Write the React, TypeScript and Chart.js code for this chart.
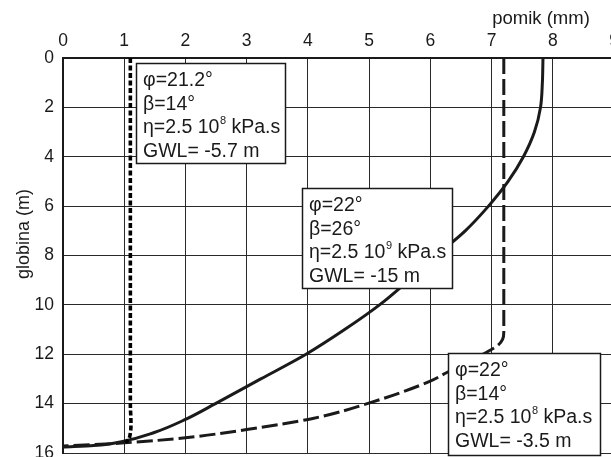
import React, { useEffect, useRef } from "react";
import { Chart, registerables } from "chart.js";

Chart.register(...registerables);

// ---- data (depth in m, displacement in mm) ----
const solidDepth = [0, 1, 2, 3, 4, 5, 6, 7, 8, 9, 10, 11, 12, 13, 14, 14.64, 15.18, 15.52, 15.7, 15.76];
const solidDisp = [7.84, 7.83, 7.8, 7.7, 7.52, 7.27, 6.95, 6.57, 6.1, 5.65, 5.17, 4.6, 3.97, 3.23, 2.49, 2.0, 1.48, 0.99, 0.5, 0];

const dottedDepth = [0, 8, 14, 14.78, 15.2, 15.45, 15.58];
const dottedDisp = [1.1, 1.1, 1.1, 1.11, 1.1, 1.07, 1.02];

const dashedDepth = [0, 6, 11.1, 11.4, 11.65, 11.89, 12.3, 12.74, 13.1, 13.96, 14.6, 15.05, 15.38, 15.59, 15.72];
const dashedDisp = [7.2, 7.2, 7.2, 7.18, 7.1, 6.94, 6.62, 6.27, 5.99, 5.02, 4.08, 3.0, 2.0, 1.0, 0];

const xTitle = "pomik (mm)";
const yTitle = "globina (m)";

const box1Lines = ["φ=21.2°", "β=14°", "η=2.5 10^8 kPa.s", "GWL= -5.7 m"];
const box2Lines = ["φ=22°", "β=26°", "η=2.5 10^9 kPa.s", "GWL= -15 m"];
const box3Lines = ["φ=22°", "β=14°", "η=2.5 10^8 kPa.s", "GWL= -3.5 m"];

const FONT = "'Liberation Sans', Arial, Helvetica, sans-serif";
const INK = "#1a1a1a";

const toPts = (d: number[], v: number[]) => d.map((y, i) => ({ x: v[i], y }));

// annotation placement (data coords of top-left corner) and pixel size
const BOXES = [
  { lines: box1Lines, ax: 1.196, ay: 0.2, w: 149, h: 100 },
  { lines: box2Lines, ax: 3.9, ay: 5.26, w: 150, h: 100 },
  { lines: box3Lines, ax: 6.29, ay: 11.93, w: 152, h: 102 },
];

function drawRich(ctx: CanvasRenderingContext2D, text: string, x: number, y: number) {
  const parts = text.split(/\^(\d+)/);
  let cx = x;
  parts.forEach((p, i) => {
    if (i % 2 === 1) {
      ctx.font = `11px ${FONT}`;
      ctx.fillText(p, cx + 0.5, y - 7);
      cx += ctx.measureText(p).width + 0.5;
    } else {
      ctx.font = `19.5px ${FONT}`;
      ctx.fillText(p, cx, y);
      cx += ctx.measureText(p).width;
    }
  });
}

const boxPlugin = {
  id: "annotBoxes",
  afterDatasetsDraw(chart: any) {
    const ctx: CanvasRenderingContext2D = chart.ctx;
    const xs = chart.scales.x;
    const ys = chart.scales.y;
    ctx.save();
    BOXES.forEach((b) => {
      const left = Math.round(xs.getPixelForValue(b.ax)) + 0.5;
      const top = Math.round(ys.getPixelForValue(b.ay)) + 0.5;
      ctx.fillStyle = "#ffffff";
      ctx.fillRect(left, top, b.w, b.h);
      ctx.strokeStyle = INK;
      ctx.lineWidth = 1.5;
      ctx.strokeRect(left, top, b.w, b.h);
      ctx.fillStyle = INK;
      ctx.textBaseline = "middle";
      ctx.textAlign = "left";
      b.lines.forEach((ln, i) => {
        drawRich(ctx, ln, left + 6.5, top + 17.5 + i * 23.4);
      });
    });
    // axis titles
    ctx.fillStyle = INK;
    ctx.textAlign = "center";
    ctx.textBaseline = "middle";
    ctx.font = `18.5px ${FONT}`;
    ctx.fillText(xTitle, 541, 19);
    ctx.save();
    ctx.translate(24, 234);
    ctx.rotate(-Math.PI / 2);
    ctx.font = `18px ${FONT}`;
    ctx.fillText(yTitle, 0, 0);
    ctx.restore();
    ctx.restore();
  },
};

export default function App() {
  const ref = useRef<HTMLCanvasElement | null>(null);

  useEffect(() => {
    if (!ref.current) return;
    const chart = new Chart(ref.current, {
      type: "line",
      data: {
        datasets: [
          {
            data: toPts(dottedDepth, dottedDisp),
            borderColor: "#000",
            borderWidth: 3.6,
            borderDash: [5, 2.5],
            pointRadius: 0,
            cubicInterpolationMode: "monotone",
            fill: false,
          },
          {
            data: toPts(solidDepth, solidDisp),
            borderColor: INK,
            borderWidth: 3,
            pointRadius: 0,
            cubicInterpolationMode: "monotone",
            fill: false,
          },
          {
            data: toPts(dashedDepth, dashedDisp),
            borderColor: INK,
            borderWidth: 3,
            borderDash: [16, 5],
            pointRadius: 0,
            cubicInterpolationMode: "monotone",
            fill: false,
          },
        ],
      },
      options: {
        indexAxis: "y",
        responsive: false,
        animation: false,
        maintainAspectRatio: false,
        layout: { padding: { left: 0, top: 0, right: 6, bottom: 4 } },
        plugins: { legend: { display: false }, tooltip: { enabled: false } },
        scales: {
          x: {
            type: "linear",
            position: "top",
            min: 0,
            max: 9,
            ticks: { stepSize: 1, color: INK, font: { family: FONT, size: 17.5 }, padding: 6, maxRotation: 0 },
            grid: { color: "#2a2a2a", lineWidth: 1, drawTicks: false },
            border: { display: true, color: INK, width: 2 },
            afterFit: (s: any) => {
              s.height = 58;
              s.paddingLeft = 0;
              s.paddingRight = 0;
            },
          },
          y: {
            type: "linear",
            reverse: true,
            min: 0,
            max: 16,
            ticks: { stepSize: 2, color: INK, font: { family: FONT, size: 17.5 }, padding: 9 },
            grid: { color: "#2a2a2a", lineWidth: 1, drawTicks: false },
            border: { display: true, color: INK, width: 2 },
            afterFit: (s: any) => {
              s.width = 63;
              s.paddingTop = 0;
              s.paddingBottom = 0;
            },
          },
        },
      },
      plugins: [boxPlugin],
    } as any);
    return () => chart.destroy();
  }, []);

  return (
    <div style={{ position: "fixed", left: 0, top: 0, width: 611, height: 457, overflow: "hidden", background: "#fff" }}>
      <canvas ref={ref} width={620} height={457} style={{ display: "block" }} />
    </div>
  );
}
